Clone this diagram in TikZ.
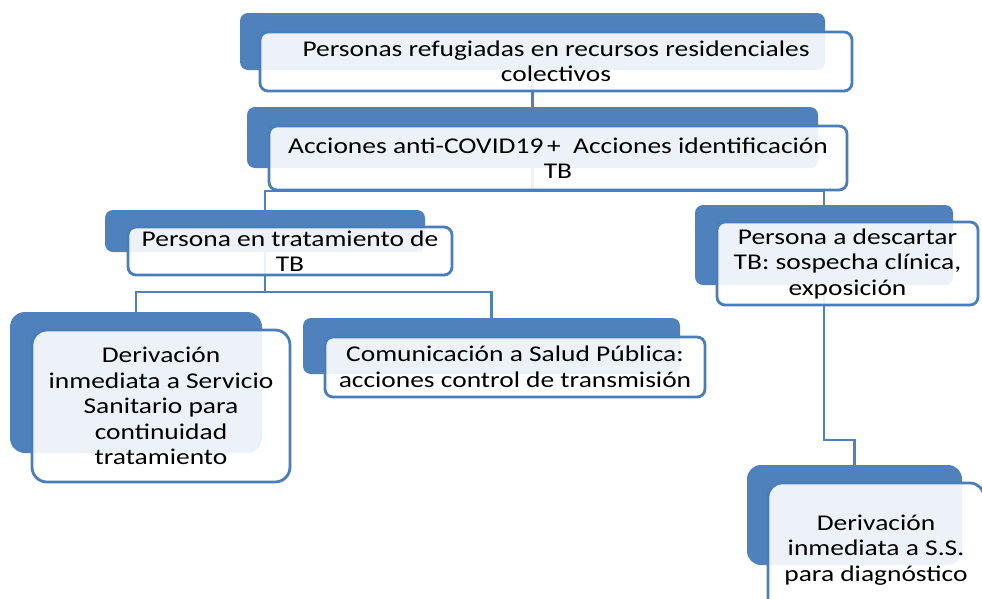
\documentclass[tikz,border=0pt]{standalone}
\usepackage{fontspec}
\setmainfont{Carlito}[FakeStretch=1.22]
\definecolor{backblue}{HTML}{4F81BD}
\definecolor{edgeblue}{HTML}{4A7EBB}
\begin{document}
\begin{tikzpicture}[x=1pt,y=-1pt,
  back/.style={draw=none, fill=backblue, rounded corners=#1, inner sep=0pt, outer sep=0pt},
  back/.default=8pt,
  front/.style={draw=edgeblue, line width=2.8pt, fill=white, fill opacity=0.9, text opacity=1,
    rounded corners=#1, inner sep=0pt, outer sep=0pt, align=center,
    font=\fontsize{22.5}{25.5}\selectfont, text=black},
  front/.default=8pt,
  link/.style={draw=backblue, line width=2.8pt}]
\useasboundingbox (0,0) rectangle (982,598);
\clip (0,0) rectangle (982,598);
% back boxes
\node[back, minimum width=585pt, minimum height=57pt] (b1) at (532.5,41.5) {};
\node[back, minimum width=571pt, minimum height=61pt] (b2) at (532.5,137.5) {};
\node[back, minimum width=320pt, minimum height=42pt] (b3) at (265,231) {};
\node[back, minimum width=258pt, minimum height=80pt] (b4) at (824,245) {};
\node[back=15pt, minimum width=252pt, minimum height=141pt] (b5) at (136,382.5) {};
\node[back, minimum width=377pt, minimum height=56pt] (b6) at (491.5,346) {};
\node[back=14pt, minimum width=215pt, minimum height=100pt] (b7) at (854.5,515) {};
% connector coordinates
\coordinate (busA) at (532.5,191);
\coordinate (busB) at (265,292);
\coordinate (busC) at (824,440);
% connectors
\draw[link] (b1.center) -- (b2.north);
\draw[link] (b2.center) -- (busA);
\draw[link] (b3.north) -- (b3.north |- busA) -- (b4.north |- busA) -- (b4.north);
\draw[link] (b3.center) -- (busB);
\draw[link] (b5.north) -- (b5.north |- busB) -- (b6.north |- busB) -- (b6.north);
\draw[link] (b4.center) -- (busC) -- (b7.north |- busC) -- (b7.north);
% front boxes
\node[front, minimum width=592pt, minimum height=59pt] (f1) at (556,61.5)
  {Personas refugiadas en recursos residenciales\\colectivos};
\node[front, minimum width=578pt, minimum height=64pt] (f2) at (558,158)
  {Acciones anti-COVID19\,+\ \ Acciones identificación\\TB};
\node[front, minimum width=324pt, minimum height=48pt] (f3) at (290,251)
  {Persona en tratamiento de\\TB};
\node[front, minimum width=261pt, minimum height=83pt] (f4) at (847.5,263.5)
  {Persona a descartar\\TB: sospecha clínica,\\exposición};
\node[front=15pt, minimum width=258pt, minimum height=152pt] (f5) at (161,406)
  {Derivación\\inmediata a Servicio\\Sanitario para\\continuidad\\tratamiento};
\node[front, minimum width=380pt, minimum height=60pt] (f6) at (515,367)
  {Comunicación a Salud Pública:\\acciones control de transmisión};
\node[front=14pt, minimum width=216pt, minimum height=134pt] (f7) at (876,550)
  {Derivación\\inmediata a S.S.\\para diagnóstico};
\end{tikzpicture}
\end{document}
